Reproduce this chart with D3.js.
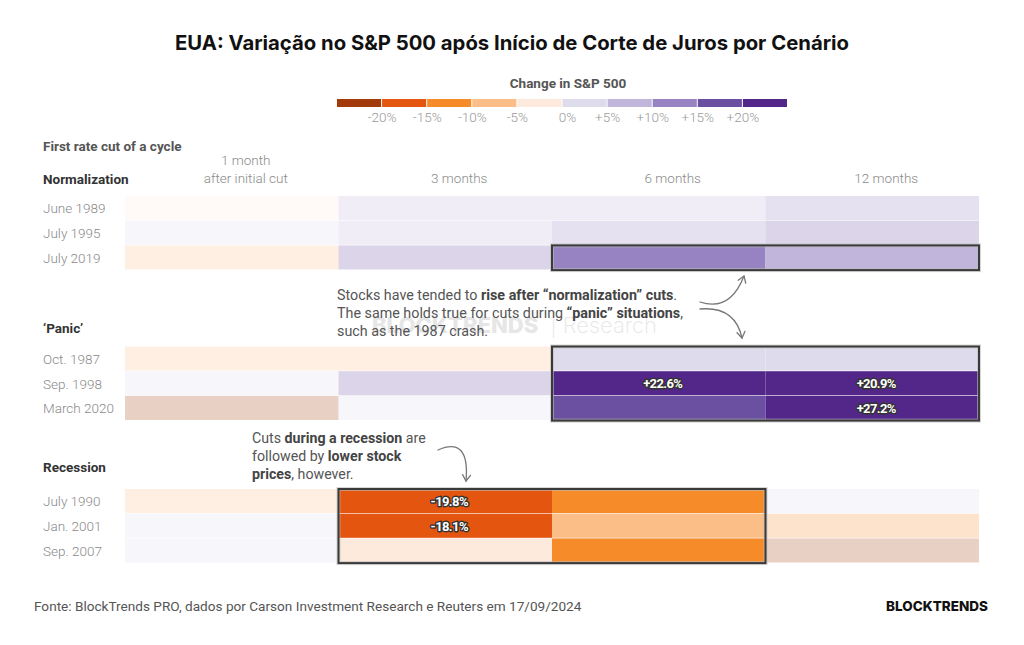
<!DOCTYPE html>
<html>
<head>
<meta charset="utf-8">
<script src="https://cdn.jsdelivr.net/npm/d3@7"></script>
<style>
	body { margin: 0; background: #fff; }
	svg { display: block; }
</style>
</head>
<body>
<div class="container"></div>
<script>
// periods after the first cut
var periods = ["1 month", "3 months", "6 months", "12 months"];

// scenarios and their first-cut dates
var groupNames = ["Normalization", "\u2018Panic\u2019", "Recession"];
var normalizationRows = ["June 1989", "July 1995", "July 2019"];
var panicRows = ["Oct. 1987", "Sep. 1998", "March 2020"];
var recessionRows = ["July 1990", "Jan. 2001", "Sep. 2007"];

// change in S&P 500, % (labelled cells exact)
var normalizationValues = [
	[-1, 7, 8, 12],
	[2, 6, 13, 18],
	[-7, 17, 12, 8]
];
var panicValues = [
	[-7, -6, 3, 4],
	[2, 17, 22.6, 20.9],
	[-21, 2, 17, 27.2]
];
var recessionValues = [
	[-6, -19.8, -12, 2],
	[1, -18.1, -7, -13],
	[1, -3, -12, -21]
];

// highlighted blocks: first row, last row, first period, last period
var normalizationBox = ["July 2019", "July 2019", "6 months", "12 months"];
var panicBox = ["Oct. 1987", "March 2020", "6 months", "12 months"];
var recessionBox = ["July 1990", "Sep. 2007", "3 months", "6 months"];

// legend
var legendTicks = [-20, -15, -10, -5, 0, 5, 10, 15, 20];
var legendColors = ["#a33a0b", "#e4550f", "#f68b2a", "#fbbe87", "#fdeadd",
	"#dedbec", "#c1b5db", "#9783c1", "#6b4fa1", "#53278a"];

var charter = function () {
	var width = 1024, height = 645;
	var gridLeft = 125, gridRight = 979;
	var rowH = 24.7;
	var sans = "Roboto, 'Noto Sans', sans-serif";

	var color = d3.scaleThreshold().domain(legendTicks).range(legendColors);
	var x = d3.scaleBand().domain(periods).range([gridLeft, gridRight]);

	var fmt = function (v) {
		return (v > 0 ? "+" : "-") + Math.abs(v).toFixed(1) + "%";
	};

	var init = function () {
		var paper = d3.select(".container").append("svg")
			.attr("width", width)
			.attr("height", height)
			.style("font-family", sans);

		paper.append("text")
			.attr("x", 512).attr("y", 50)
			.attr("text-anchor", "middle")
			.style("font-family", "Inter, sans-serif")
			.style("font-weight", 700)
			.style("font-size", "20.3px")
			.attr("fill", "#111")
			.text("EUA: Varia\u00e7\u00e3o no S&P 500 ap\u00f3s In\u00edcio de Corte de Juros por Cen\u00e1rio");

		drawLegend(paper);

		// column headers
		paper.append("text")
			.attr("x", 43).attr("y", 151)
			.attr("fill", "#555").style("font-weight", 700).style("font-size", "13.5px")
			.text("First rate cut of a cycle");

		var headers = paper.append("g")
			.attr("fill", "#8a8a8a")
			.style("font-size", "13.5px")
			.style("font-weight", 300)
			.attr("text-anchor", "middle");
		headers.selectAll("text.period")
			.data(periods)
			.enter().append("text")
			.attr("class", "period")
			.attr("x", function (d) { return x(d) + x.bandwidth() / 2 + 14; })
			.attr("y", function (d, i) { return i === 0 ? 165 : 183; })
			.text(function (d) { return d; });
		headers.append("text")
			.attr("x", x(periods[0]) + x.bandwidth() / 2 + 14)
			.attr("y", 183)
			.text("after initial cut");

		// watermark (sits behind the note, as in the source)
		var wm = paper.append("text")
			.attr("x", 372).attr("y", 333)
			.attr("fill", "#e6e6e6")
			.style("font-family", "Inter, sans-serif")
			.style("font-size", "22px");
		wm.append("tspan").style("font-weight", 800).text("BLOCKTRENDS");
		wm.append("tspan").style("font-weight", 200).attr("dx", 12).text("|  Research");

		var groups = [
			{ name: groupNames[0], rows: normalizationRows, values: normalizationValues, box: normalizationBox, top: 196, labelY: 184 },
			{ name: groupNames[1], rows: panicRows, values: panicValues, box: panicBox, top: 346.5, labelY: 333 },
			{ name: groupNames[2], rows: recessionRows, values: recessionValues, box: recessionBox, top: 489, labelY: 472 }
		];

		groups.forEach(function (g) { drawGroup(paper, g); });

		drawNotes(paper);

		paper.append("text")
			.attr("x", 34).attr("y", 611)
			.attr("fill", "#555").style("font-size", "13.6px")
			.text("Fonte: BlockTrends PRO, dados por Carson Investment Research e Reuters em 17/09/2024");
		paper.append("text")
			.attr("x", 988).attr("y", 611)
			.attr("text-anchor", "end")
			.attr("fill", "#111")
			.style("font-family", "Inter, sans-serif")
			.style("font-weight", 800)
			.style("font-size", "13.5px")
			.text("BLOCKTRENDS");
	};

	var drawLegend = function (paper) {
		var lx = d3.scaleLinear().domain([-25, 25]).range([337, 788]);
		var bins = legendColors.map(function (c, i) {
			return { c: c, from: i === 0 ? -25 : legendTicks[i - 1], to: i === legendTicks.length ? 25 : legendTicks[i] };
		});
		var lg = paper.append("g");
		lg.append("text")
			.attr("x", 568).attr("y", 88)
			.attr("text-anchor", "middle")
			.attr("fill", "#555").style("font-weight", 700).style("font-size", "13.5px")
			.text("Change in S&P 500");
		lg.selectAll("rect")
			.data(bins)
			.enter().append("rect")
			.attr("x", function (d) { return lx(d.from); })
			.attr("width", function (d) { return lx(d.to) - lx(d.from) - 1; })
			.attr("y", 99)
			.attr("height", 8)
			.attr("fill", function (d) { return d.c; });
		lg.selectAll("text.tick")
			.data(legendTicks)
			.enter().append("text")
			.attr("class", "tick")
			.attr("x", function (d) { return lx(d) + (d === 0 ? 5 : 0); })
			.attr("y", 122)
			.attr("text-anchor", "middle")
			.attr("fill", "#999").style("font-size", "13.5px").style("font-weight", 300)
			.text(function (d) { return (d > 0 ? "+" : d < 0 ? "-" : "") + Math.abs(d) + "%"; });
	};

	var drawGroup = function (paper, g) {
		var y = d3.scaleBand().domain(g.rows).range([g.top, g.top + g.rows.length * rowH]);
		var r0 = g.rows.indexOf(g.box[0]), r1 = g.rows.indexOf(g.box[1]);
		var c0 = periods.indexOf(g.box[2]), c1 = periods.indexOf(g.box[3]);

		var cells = [];
		g.rows.forEach(function (row, ri) {
			periods.forEach(function (p, ci) {
				cells.push({
					row: row, period: p, v: g.values[ri][ci],
					lit: ri >= r0 && ri <= r1 && ci >= c0 && ci <= c1
				});
			});
		});

		var gg = paper.append("g");

		gg.append("text")
			.attr("x", 43).attr("y", g.labelY)
			.attr("fill", "#333").style("font-weight", 700).style("font-size", "13.5px")
			.text(g.name);

		gg.selectAll("text.row")
			.data(g.rows)
			.enter().append("text")
			.attr("class", "row")
			.attr("x", 43)
			.attr("y", function (d) { return y(d) + y.bandwidth() / 2 + 5; })
			.attr("fill", "#8a8a8a").style("font-size", "13.5px").style("font-weight", 300)
			.text(function (d) { return d; });

		gg.selectAll("rect.cell")
			.data(cells)
			.enter().append("rect")
			.attr("class", "cell")
			.attr("x", function (d) { return x(d.period); })
			.attr("y", function (d) { return y(d.row); })
			.attr("width", x.bandwidth())
			.attr("height", y.bandwidth() - 0.6)
			.attr("fill", function (d) { return color(d.v); })
			.attr("fill-opacity", function (d) { return d.lit ? 1 : 0.24; });

		var bx = x(g.box[2]), bw = x(g.box[3]) + x.bandwidth() - bx;
		var by = y(g.box[0]), bh = y(g.box[1]) + y.bandwidth() - by;
		gg.append("rect")
			.attr("x", bx).attr("y", by).attr("width", bw).attr("height", bh)
			.attr("fill", "none").attr("stroke", "#bbb").attr("stroke-width", 4).attr("stroke-opacity", 0.6);
		gg.append("rect")
			.attr("x", bx).attr("y", by).attr("width", bw).attr("height", bh)
			.attr("fill", "none").attr("stroke", "#3a3a3a").attr("stroke-width", 2);

		gg.selectAll("text.val")
			.data(cells.filter(function (d) { return d.lit && Math.abs(d.v) >= 18; }))
			.enter().append("text")
			.attr("class", "val")
			.attr("x", function (d) { return x(d.period) + x.bandwidth() / 2 + 4; })
			.attr("y", function (d) { return y(d.row) + y.bandwidth() / 2 + 4.5; })
			.attr("text-anchor", "middle")
			.attr("fill", "#fff")
			.attr("stroke", "#333")
			.attr("stroke-width", 2.8)
			.attr("stroke-linejoin", "round")
			.style("paint-order", "stroke")
			.style("font-weight", 700)
			.style("font-size", "13px")
			.style("letter-spacing", "-0.6px")
			.text(function (d) { return fmt(d.v); });
	};

	var note = function (paper, x0, y0, lh, size, lines) {
		var t = paper.append("text")
			.attr("fill", "#555")
			.style("font-size", size);
		lines.forEach(function (parts, i) {
			parts.forEach(function (p, j) {
				var s = t.append("tspan").text(p[0]);
				if (j === 0) s.attr("x", x0).attr("y", y0 + i * lh);
				if (p[1]) s.style("font-weight", 700).attr("fill", "#444");
			});
		});
	};

	var drawNotes = function (paper) {
		note(paper, 337, 300, 18, "14.3px", [
			[["Stocks have tended to "], ["rise after \u201cnormalization\u201d cuts", true], ["."]],
			[["The same holds true for cuts during "], ["\u201cpanic\u201d situations", true], [","]],
			[["such as the 1987 crash."]]
		]);
		note(paper, 252, 443, 18, "14.2px", [
			[["Cuts "], ["during a recession", true], [" are"]],
			[["followed by "], ["lower stock", true]],
			[["prices", true], [", however."]]
		]);

		var arrows = [
			{ d: "M700,302 Q730,312 744,276", head: [744, 276, -70] },
			{ d: "M700,309 Q735,306 742,338", head: [742, 338, 80] },
			{ d: "M438,450 Q470,436 466,481", head: [466, 481, 95] }
		];
		var ag = paper.append("g")
			.attr("fill", "none")
			.attr("stroke", "#777")
			.attr("stroke-width", 1.3)
			.attr("stroke-linecap", "round");
		ag.selectAll("path.curve")
			.data(arrows)
			.enter().append("path")
			.attr("class", "curve")
			.attr("d", function (d) { return d.d; });
		ag.selectAll("path.head")
			.data(arrows)
			.enter().append("path")
			.attr("class", "head")
			.attr("d", "M-6,-4 L0,0 L-6,4")
			.attr("transform", function (d) {
				return "translate(" + d.head[0] + "," + d.head[1] + ") rotate(" + d.head[2] + ")";
			});
	};

	return Object.freeze({ init: init });
};

var c = charter();
c.init();
</script>
</body>
</html>
